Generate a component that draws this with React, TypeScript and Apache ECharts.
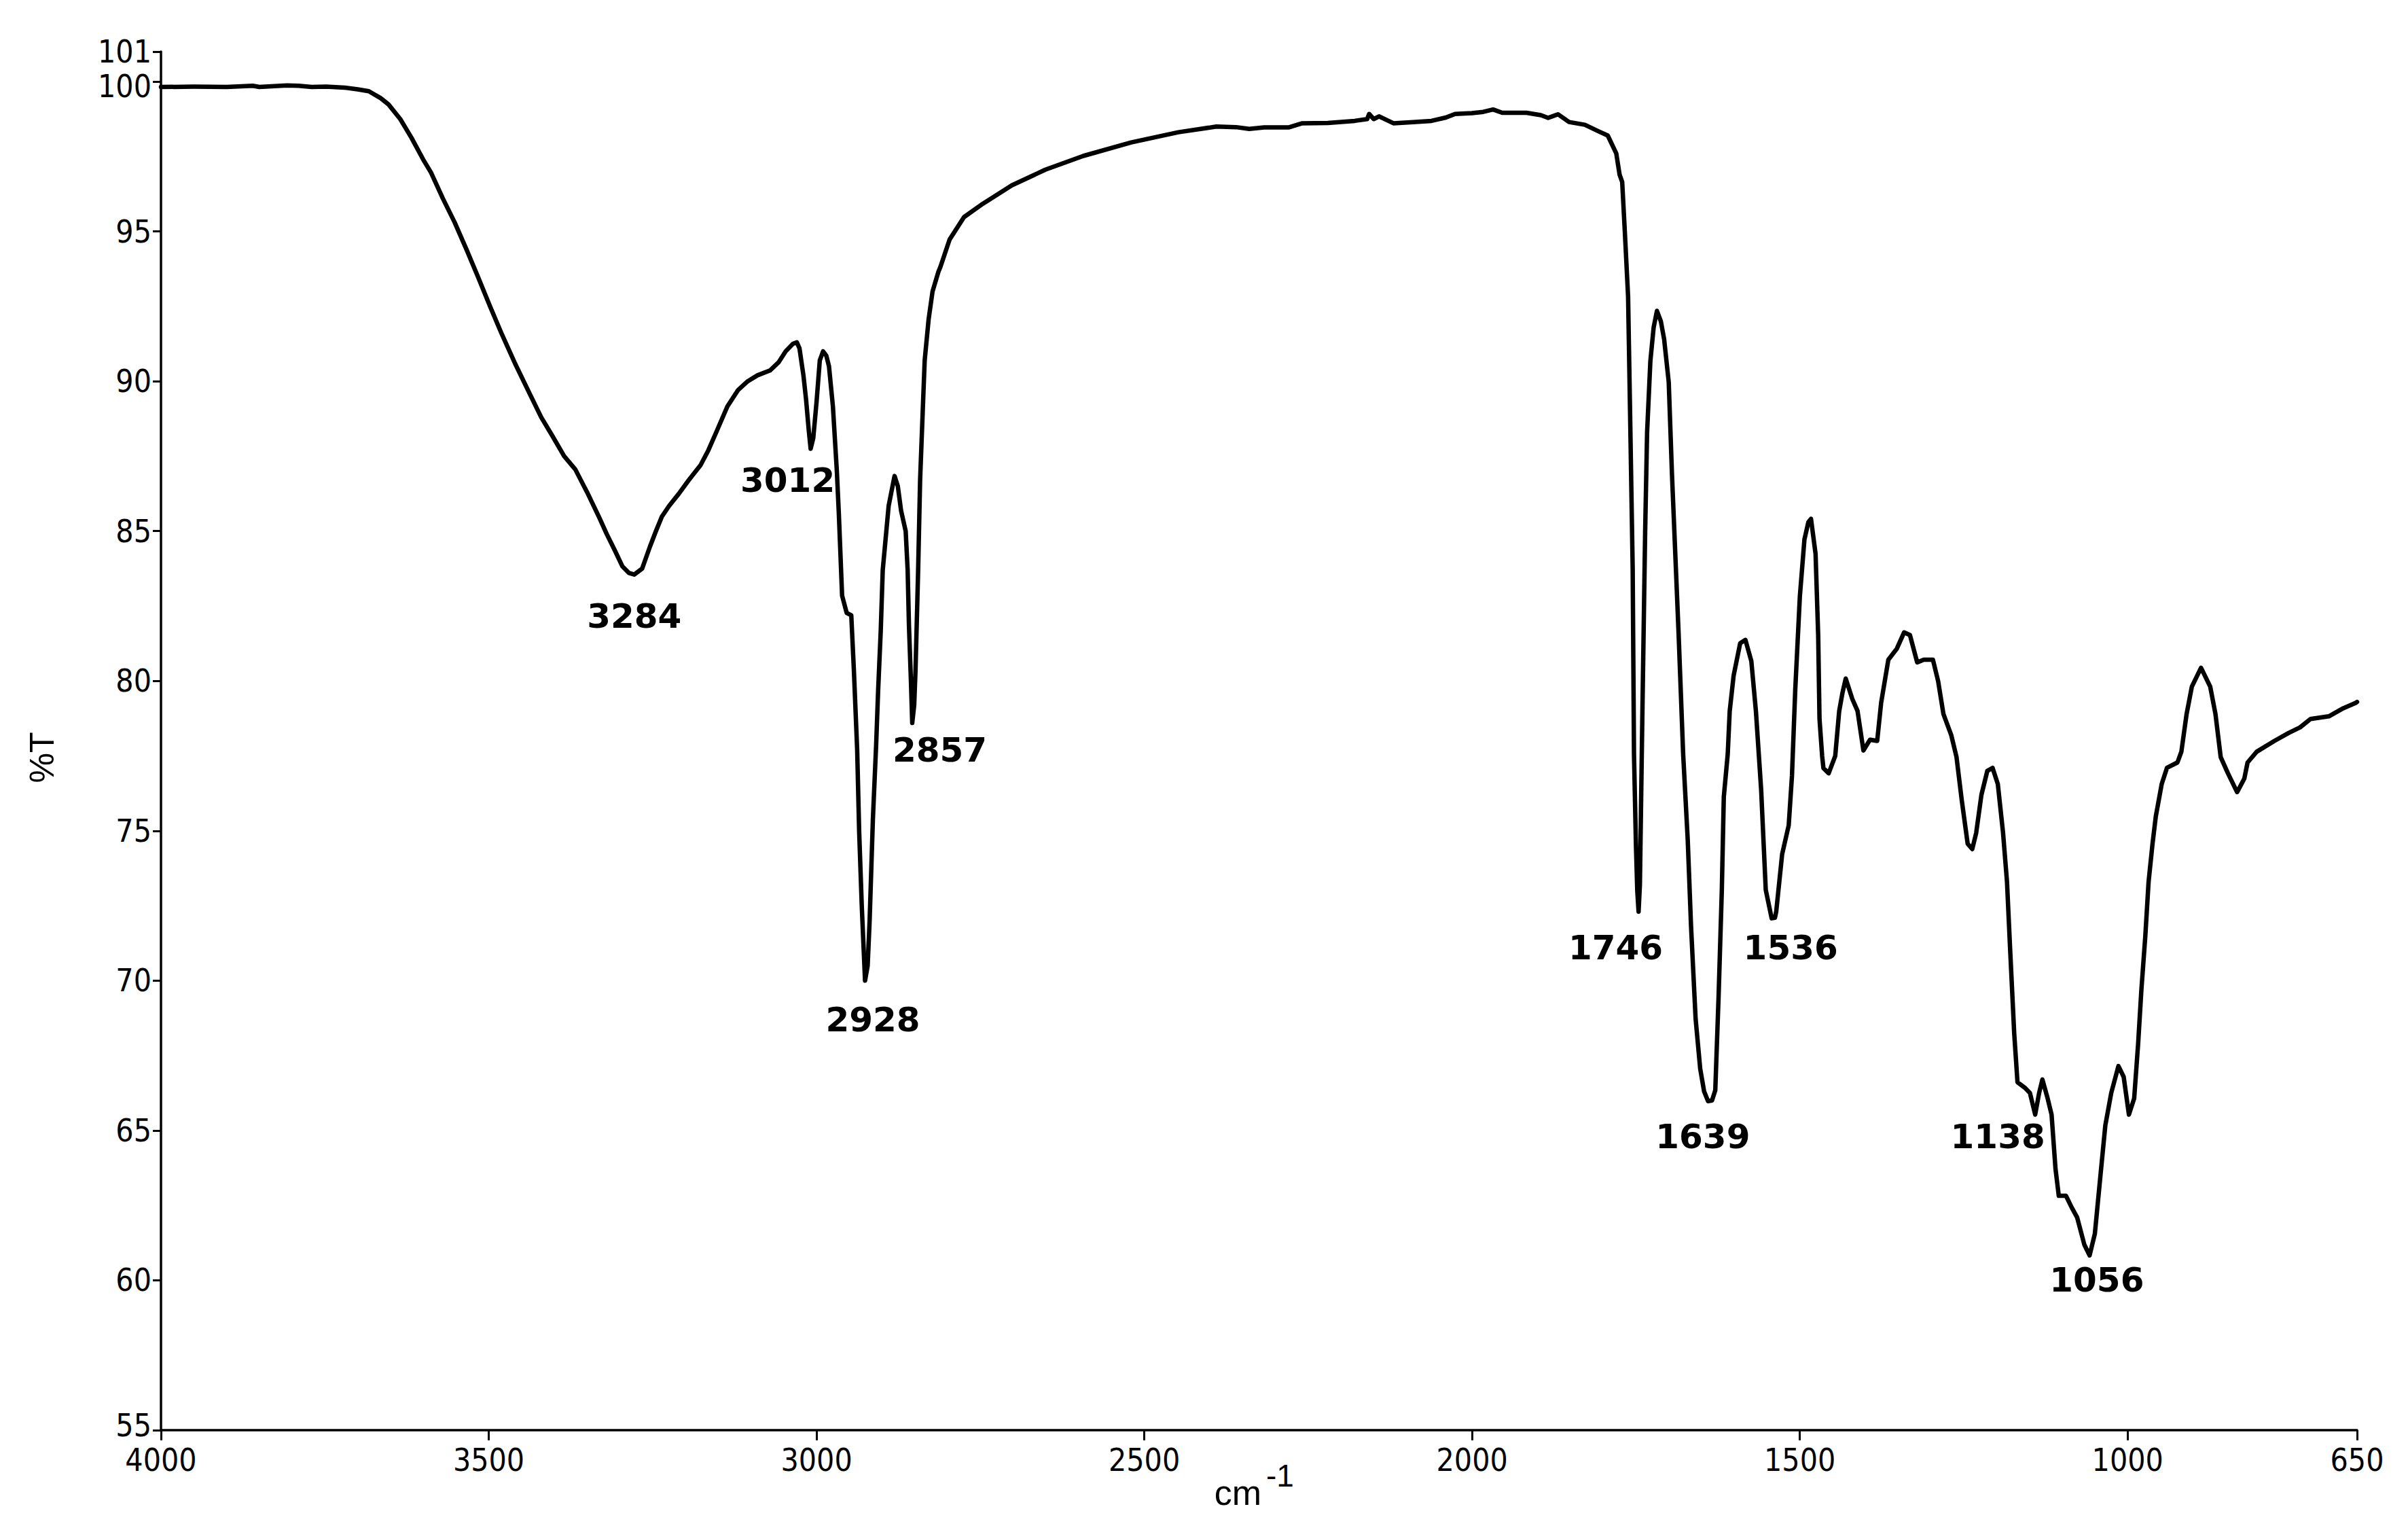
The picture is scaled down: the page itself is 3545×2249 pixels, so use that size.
import React, { useEffect, useRef } from "react";
import * as echarts from "echarts";

// Wavenumber (cm-1), descending, and transmittance (%T)
const wavenumber = [
  4000, 3950, 3900, 3860, 3850, 3808, 3790, 3770, 3748, 3720, 3700, 3683, 3665, 3653, 3635, 3618, 3600, 3588, 3570, 3552,
  3534, 3516, 3498, 3481, 3460, 3439, 3420, 3403, 3385, 3368, 3350, 3332, 3320, 3308, 3296, 3286, 3278, 3266, 3254, 3245,
  3236, 3225, 3210, 3195, 3177, 3165, 3153, 3136, 3120, 3105, 3090, 3071, 3058, 3047, 3036, 3030, 3026, 3020, 3016, 3012,
  3009, 3005, 3000, 2995, 2990, 2985, 2981, 2975, 2969, 2966, 2961, 2954, 2947, 2943, 2938, 2935, 2931, 2926, 2922, 2919,
  2914, 2909, 2906, 2902, 2899, 2890, 2881, 2876, 2871, 2864, 2861, 2859, 2856, 2854, 2851, 2849, 2845, 2842, 2838, 2835,
  2829, 2823, 2814, 2811, 2797, 2775, 2746, 2702, 2651, 2593, 2520, 2448, 2390, 2360, 2340, 2317, 2280, 2259, 2220, 2179,
  2160, 2157, 2150, 2142, 2120, 2090, 2062, 2040, 2026, 2000, 1983, 1968, 1954, 1917, 1895, 1884, 1869, 1852, 1828, 1808,
  1793, 1780, 1775, 1771, 1767, 1762, 1759, 1755, 1753, 1750, 1748, 1746, 1744, 1743, 1740, 1736, 1733, 1728, 1723, 1718,
  1712, 1707, 1700, 1695, 1690, 1685, 1678, 1671, 1666, 1659, 1652, 1646, 1640, 1634, 1629, 1624, 1619, 1616, 1610, 1607,
  1601, 1591, 1583, 1574, 1567, 1559, 1552, 1543, 1538, 1536, 1527, 1517, 1512, 1507, 1500, 1493, 1487, 1483, 1476, 1472,
  1470, 1466, 1464, 1456, 1446, 1440, 1435, 1430, 1420, 1412, 1403, 1393, 1382, 1376, 1365, 1352, 1341, 1332, 1321, 1311,
  1297, 1289, 1281, 1269, 1261, 1253, 1244, 1237, 1231, 1223, 1214, 1206, 1198, 1190, 1184, 1179, 1173, 1168, 1157, 1149,
  1141, 1135, 1130, 1122, 1116, 1110, 1105, 1094, 1086, 1077, 1066, 1058, 1050, 1042, 1034, 1025, 1014, 1006, 998, 990,
  984, 979, 973, 968, 962, 957, 948, 940, 924, 918, 910, 902, 888, 874, 866, 858, 847, 833, 822, 817,
  803, 776, 754, 737, 721, 693, 671, 652, 650,
];

const transmittance = [
  99.82, 99.83, 99.82, 99.86, 99.82, 99.87, 99.86, 99.82, 99.83, 99.8, 99.74, 99.68, 99.45, 99.24, 98.75, 98.13, 97.4, 96.96, 96.1, 95.3,
  94.4, 93.46, 92.5, 91.62, 90.6, 89.65, 88.8, 88.18, 87.5, 87.06, 86.3, 85.48, 84.9, 84.37, 83.82, 83.6, 83.55, 83.75, 84.49, 85.0,
  85.48, 85.84, 86.25, 86.7, 87.2, 87.7, 88.3, 89.16, 89.7, 90.0, 90.2, 90.36, 90.63, 91.0, 91.25, 91.3, 91.1, 90.2, 89.4, 88.4,
  87.75, 88.1, 89.3, 90.7, 91.0, 90.85, 90.5, 89.16, 87.0, 85.6, 82.85, 82.27, 82.19, 80.35, 77.7, 75.0, 72.5, 70.0, 70.5, 72.0,
  75.4, 77.9, 79.7, 81.7, 83.7, 85.84, 86.84, 86.5, 85.68, 85.0, 83.7, 81.85, 80.0, 78.6, 79.2, 80.35, 83.7, 86.7, 89.0, 90.7,
  92.07, 93.0, 93.66, 93.82, 94.73, 95.48, 95.93, 96.54, 97.06, 97.52, 97.97, 98.31, 98.5, 98.48, 98.42, 98.47, 98.47, 98.61, 98.62, 98.69,
  98.75, 98.92, 98.75, 98.84, 98.61, 98.65, 98.69, 98.8, 98.92, 98.95, 98.99, 99.07, 98.96, 98.96, 98.88, 98.79, 98.91, 98.65, 98.56, 98.35,
  98.2, 97.6, 96.9, 96.65, 95.0, 92.83, 89.0, 83.76, 77.56, 74.5, 73.0, 72.3, 73.2, 74.7, 79.2, 84.95, 88.3, 90.68, 91.8, 92.35,
  92.0, 91.4, 89.97, 86.87, 84.24, 81.61, 77.56, 74.69, 71.83, 68.73, 67.06, 66.3, 65.98, 66.0, 66.34, 69.44, 73.03, 76.13, 77.56, 78.99,
  80.18, 81.26, 81.37, 80.66, 78.99, 76.36, 73.03, 72.08, 72.1, 72.31, 74.22, 75.18, 76.84, 79.71, 82.81, 84.72, 85.3, 85.41, 84.24, 81.5,
  78.73, 77.5, 77.09, 76.92, 77.5, 78.99, 79.6, 80.08, 79.4, 79.0, 77.68, 78.04, 78.0, 79.27, 80.71, 81.08, 81.62, 81.53, 80.62, 80.71,
  80.71, 79.99, 78.9, 78.19, 77.46, 76.02, 74.57, 74.39, 74.93, 76.2, 77.0, 77.1, 76.56, 74.93, 73.3, 70.95, 68.24, 66.61, 66.43, 66.25,
  65.53, 66.25, 66.7, 66.07, 65.53, 63.72, 62.82, 62.82, 62.46, 62.1, 61.19, 60.83, 61.55, 63.37, 65.17, 66.25, 67.15, 66.79, 65.53, 66.07,
  67.88, 69.69, 71.49, 73.3, 74.57, 75.48, 76.56, 77.1, 77.28, 77.64, 78.9, 79.81, 80.44, 79.81, 78.9, 77.46, 76.92, 76.29, 76.74, 77.28,
  77.64, 78.0, 78.27, 78.45, 78.73, 78.82, 79.09, 79.27, 79.3,
];

// Peak annotations: text and the (wavenumber, %T) point where each label sits
const peakLabels = ["3284", "3012", "2928", "2857", "1746", "1639", "1536", "1138", "1056"];
const peakLabelX = [3278, 3044, 2914, 2812, 1781, 1648, 1514, 1198, 1047];
const peakLabelY = [82.15, 86.7, 68.7, 77.7, 71.1, 64.8, 71.1, 64.8, 60.0];

// Axis ticks
const xTicks = [4000, 3500, 3000, 2500, 2000, 1500, 1000, 650];
const yTicks = [55, 60, 65, 70, 75, 80, 85, 90, 95, 100, 101];
const yLabelsMain = [55, 60, 65, 70, 75, 80, 85, 90, 95, 100];
const yLabelsTop = [101];

const tickFont = "'Liberation Sans Narrow', 'Arial Narrow', 'DejaVu Sans Condensed', sans-serif";
const titleFont = "'Liberation Sans', Arial, sans-serif";

const yLabelFormatter = (v: number) => {
  const r = Math.round(v);
  if (r === 100) return "{low|100}";
  if (r === 55) return "{high|55}";
  return String(r);
};

const yLabelStyle = {
  color: "#000",
  fontFamily: tickFont,
  fontSize: 46,
  lineHeight: 34,
  margin: 14,
  showMinLabel: true,
  showMaxLabel: true,
  hideOverlap: false,
  formatter: yLabelFormatter,
  rich: {
    low: {
      color: "#000",
      fontFamily: tickFont,
      fontSize: 46,
      lineHeight: 34,
      padding: [14, 0, 0, 0],
    },
    high: {
      color: "#000",
      fontFamily: tickFont,
      fontSize: 46,
      lineHeight: 34,
      padding: [0, 0, 14, 0],
    },
  },
};

export default function App() {
  const ref = useRef<HTMLDivElement>(null);

  useEffect(() => {
    if (!ref.current) return;
    const chart = echarts.init(ref.current, null, { renderer: "svg" });
    const lineData = wavenumber.map((w, i) => [w, transmittance[i]]);
    const labelData = peakLabels.map((t, i) => ({ name: t, value: [peakLabelX[i], peakLabelY[i]] }));

    chart.setOption({
      animation: false,
      backgroundColor: "#ffffff",
      grid: { left: 237, right: 75, top: 76, bottom: 144, containLabel: false, outerBoundsMode: "none" },
      xAxis: {
        type: "value",
        min: 650,
        max: 4000,
        inverse: true,
        axisLine: { show: true, lineStyle: { color: "#000", width: 3.5 } },
        axisTick: { show: true, length: 15, customValues: xTicks, lineStyle: { color: "#000", width: 3 } },
        axisLabel: {
          customValues: xTicks,
          formatter: (v: number) => String(Math.round(v)),
          color: "#000",
          fontFamily: tickFont,
          fontSize: 46,
          lineHeight: 36,
          margin: 26,
          showMinLabel: true,
          showMaxLabel: true,
          hideOverlap: false,
        },
        splitLine: { show: false },
      },
      yAxis: [
        {
          type: "value",
          min: 55,
          max: 101,
          position: "left",
          axisLine: { show: true, lineStyle: { color: "#000", width: 3.5 } },
          axisTick: { show: true, length: 12, customValues: yTicks, lineStyle: { color: "#000", width: 3 } },
          axisLabel: { ...yLabelStyle, customValues: yLabelsMain },
          splitLine: { show: false },
        },
        {
          type: "value",
          min: 55,
          max: 101,
          position: "left",
          offset: 0,
          axisLine: { show: false },
          axisTick: { show: true, length: 12, customValues: yLabelsTop, lineStyle: { color: "#000", width: 3 } },
          axisLabel: { ...yLabelStyle, customValues: yLabelsTop },
          splitLine: { show: false },
        },
      ],
      series: [
        {
          type: "line",
          data: lineData,
          yAxisIndex: 0,
          symbol: "none",
          showSymbol: false,
          smooth: false,
          silent: true,
          lineStyle: { color: "#000", width: 6.5, join: "round", cap: "round" },
        },
        {
          type: "scatter",
          data: labelData,
          yAxisIndex: 0,
          symbol: "circle",
          symbolSize: 1,
          silent: true,
          itemStyle: { color: "#ffffff", opacity: 0 },
          label: {
            show: true,
            position: "inside",
            formatter: "{b}",
            color: "#000000",
            opacity: 1,
            textBorderWidth: 0,
            fontFamily: "'DejaVu Sans', sans-serif",
            fontWeight: 700,
            fontSize: 50,
          },
        },
      ],
      graphic: [
        {
          type: "text",
          x: 62,
          y: 1115,
          rotation: Math.PI / 2,
          style: {
            text: "%T",
            fill: "#000",
            font: `50px ${titleFont}`,
            textAlign: "center",
            textVerticalAlign: "middle",
          },
        },
        {
          type: "text",
          x: 1857,
          y: 2197,
          style: {
            text: "cm",
            fill: "#000",
            font: `52px ${titleFont}`,
            textAlign: "right",
            textVerticalAlign: "middle",
          },
        },
        {
          type: "text",
          x: 1864,
          y: 2172,
          style: {
            text: "-1",
            fill: "#000",
            font: `46px ${titleFont}`,
            textAlign: "left",
            textVerticalAlign: "middle",
          },
        },
      ],
    });

    return () => {
      chart.dispose();
    };
  }, []);

  return (
    <div
      ref={ref}
      style={{ position: "fixed", left: 0, top: 0, width: "3545px", height: "2249px", background: "#fff" }}
    />
  );
}
